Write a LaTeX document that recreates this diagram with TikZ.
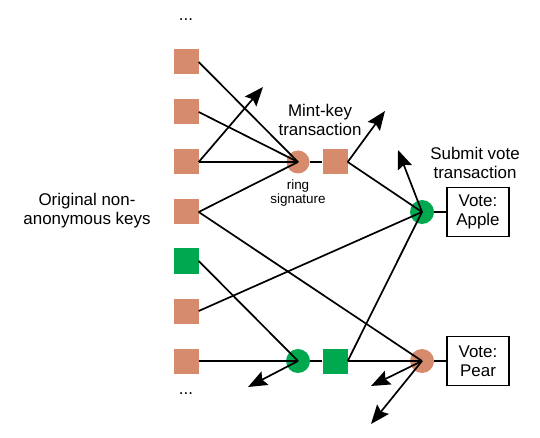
\documentclass[tikz,border=0pt]{standalone}
\usepackage{fontspec}
\setmainfont{Liberation Sans}
\usetikzlibrary{arrows.meta}
\definecolor{salmon}{RGB}{214,140,108}
\definecolor{vgreen}{RGB}{0,168,80}
\tikzset{
  keysq/.style={rectangle, minimum size=25bp, inner sep=0pt},
  dot/.style={circle, minimum size=24bp, inner sep=0pt},
  conn/.style={line width=1.7bp, draw=black},
  arr/.style={conn, -{Stealth[length=19bp,width=15bp,inset=3bp]}},
  votebox/.style={draw=black, line width=1.6bp, minimum width=62bp, minimum height=49bp, inner sep=0pt, align=center, font=\fontsize{17}{19}\selectfont},
  lbl/.style={align=center, font=\fontsize{17}{19}\selectfont, inner sep=0pt},
  small/.style={align=center, font=\fontsize{13.5}{15}\selectfont, inner sep=0pt}
}
\begin{document}
\begin{tikzpicture}[x=1bp,y=-1bp]
\useasboundingbox (0,0) rectangle (540,438);
% key squares
\node[keysq, fill=salmon] (k1) at (186,62) {};
\node[keysq, fill=salmon] (k2) at (186,112) {};
\node[keysq, fill=salmon] (k3) at (186,162) {};
\node[keysq, fill=salmon] (k4) at (186,212) {};
\node[keysq, fill=vgreen] (k5) at (186,261) {};
\node[keysq, fill=salmon] (k6) at (186,311) {};
\node[keysq, fill=salmon] (k7) at (186,361) {};
\node[lbl] (dtop) at (186,20) {...};
\node[lbl] (dbot) at (186,394) {...};
% ring signatures and minted keys
\node[dot, fill=salmon, minimum size=23bp] (r1) at (298,162) {};
\node[keysq, fill=salmon] (m1) at (335,162) {};
\node[dot, fill=vgreen] (r2) at (298,361) {};
\node[keysq, fill=vgreen] (m2) at (335,361) {};
% vote transactions
\node[dot, fill=vgreen] (va) at (422,212) {};
\node[dot, fill=salmon] (vp) at (422,361) {};
\node[votebox] (ba) at (478,212) {Vote:\\Apple};
\node[votebox] (bp) at (478,361) {Vote:\\Pear};
% labels
\node[lbl] (orig) at (87,211) {Original non-\\anonymous keys};
\node[lbl] (mint) at (320,120) {Mint-key\\transaction};
\node[lbl] (subm) at (475,163) {Submit vote\\transaction};
\node[small] (ring) at (298,193) {ring\\signature};
% arrow free ends
\coordinate (a1) at (263,87);
\coordinate (a2) at (385,111);
\coordinate (a3) at (398,150);
\coordinate (a4) at (248,387);
\coordinate (a5) at (371,386);
\coordinate (a6) at (371,424);
% connectors
\draw[conn] (k1.east) -- (r1.center);
\draw[conn] (k2.east) -- (r1.center);
\draw[conn] (k3.east) -- (r1.center);
\draw[conn] (k4.east) -- (r1.center);
\draw[arr] (k3.east) -- (a1);
\draw[conn] (r1) -- (m1);
\draw[arr] (m1.east) -- (a2);
\draw[conn] (m1.east) -- (va.center);
\draw[conn] (k6.east) -- (va.center);
\draw[conn] (k4.east) -- (vp.center);
\draw[conn] (k5.east) -- (r2.center);
\draw[conn] (k7.east) -- (r2.center);
\draw[arr] (r2.center) -- (a4);
\draw[conn] (r2) -- (m2);
\draw[conn] (m2.east) -- (va.center);
\draw[conn] (m2.east) -- (vp.center);
\draw[arr] (va.center) -- (a3);
\draw[arr] (vp.center) -- (a5);
\draw[arr] (vp.center) -- (a6);
\draw[conn] (va) -- (ba);
\draw[conn] (vp) -- (bp);
\end{tikzpicture}
\end{document}
